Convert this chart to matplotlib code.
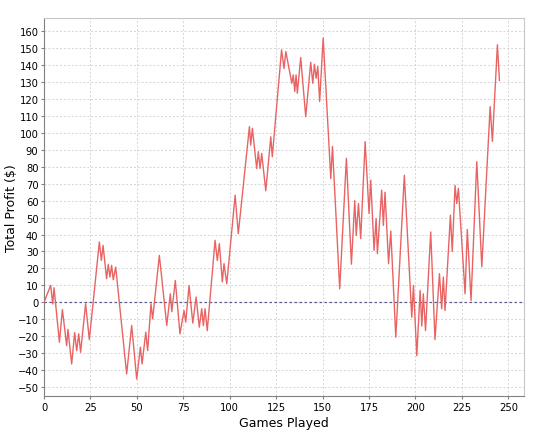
import numpy as np
import matplotlib
matplotlib.use('Agg')
import matplotlib.pyplot as plt

# vertices of the profit curve (game number, total profit)
games = [0, 3.6, 4.7, 5.4, 8.3, 9.9, 12.2, 12.9, 14.9, 16.5, 17.6, 18.7, 19.7, 22.4, 24.4,
         29.8, 30.9, 31.8, 33.7, 34.6, 35.5, 36.4, 37.3, 38.6, 44.5, 47.2, 49.9, 51.9, 52.8,
         54.8, 55.8, 57.6, 58.5, 62.1, 66.1, 68, 68.8, 70.7, 73.2, 75.4, 76.3, 78.1, 80.1,
         81.9, 83.6, 84.9, 85.8, 86.7, 87.9, 92.1, 93.3, 94.4, 96, 96.9, 98.4, 102.9, 104.6,
         110.6, 111.3, 112.2, 114.5, 115.4, 116.3, 117.2, 119.4, 122.1, 122.9, 127.9, 129.2,
         130.2, 133.4, 134.2, 135, 135.7, 136.4, 138.2, 140.9, 143.6, 144.7, 145.6, 146.5,
         147.4, 148.4, 150.3, 154.4, 155.3, 159.2, 162.8, 165.5, 167.3, 168.1, 169.3, 170.5,
         172.9, 175, 175.9, 177.7, 178.8, 179.5, 181.8, 182.7, 183.6, 185.5, 186.7, 189.4,
         194, 198, 198.9, 200.7, 202.5, 203.4, 204.2, 205.4, 208.2, 210.5, 212.9, 214.1,
         215, 215.9, 218.8, 219.8, 221.3, 222.2, 223.1, 226.7, 227.9, 229.9, 233, 235.7,
         240.2, 241.4, 244.1, 245.2]
profit = [0, 10, -1, 8.6, -23.6, -4.3, -25.6, -16, -36.4, -17.9, -28.5, -18.6, -29.5, -0.9, -22,
          35.6, 24.7, 33.6, 13.9, 22.4, 14.9, 21.8, 13.3, 20.8, -42.3, -13.7, -45.3, -26.5, -36.4,
          -17.6, -28.5, -0.9, -9.8, 27.7, -13.7, 5, -5.5, 12.9, -18.6, -4.9, -11.7, 9.9, -12.3,
          3.1, -14.7, -3.8, -13.7, -3.8, -16.7, 36.6, 24.7, 34.6, 12, 22.8, 10.9, 63.2, 40.5,
          103.7, 92.8, 102.7, 79, 88.9, 79, 87.9, 65.8, 97.7, 85.9, 149, 138,
          148, 129.3, 134.2, 124.4, 134.2, 123.4, 144.5, 109.6, 141.7, 129.3, 140.5, 132.2,
          139.2, 118.5, 156, 73, 92, 8, 85, 22.5, 60, 39.5, 58.3, 37.6,
          94.8, 52.4, 72.1, 30.7, 49.4, 28.7, 66.2, 45.4, 65, 22.8, 42, -20.6,
          75, -8.8, 9.9, -31.5, 7, -14, 5, -16.7, 41.5, -22, 16.9, -3.8,
          14.9, -4.9, 51.4, 30, 69, 58.3, 67.2, 5, 43, 1, 83, 21,
          115.5, 95, 152, 131]

x_ticks = np.arange(0, 251, 25)
y_ticks = np.arange(-50, 161, 10)

fig = plt.figure(figsize=(5.5, 4.39), dpi=100)
ax = fig.add_axes([0.08, 0.0957, 0.873, 0.861])

ax.set_xlim(0, 258.5)
ax.set_ylim(-55.3, 167.8)
ax.set_xticks(x_ticks)
ax.set_yticks(y_ticks)
ax.grid(True, color='#d4d4d4', linestyle=(0, (2, 2)), linewidth=0.7)
ax.set_axisbelow(True)

ax.axhline(0, color='#5c5c8c', linestyle=(0, (2, 2)), linewidth=0.9, zorder=2)
ax.plot(games, profit, color='#e86464', linewidth=1.0, zorder=3)

for side in ['left', 'bottom']:
    ax.spines[side].set_color('#808080')
for side in ['top', 'right']:
    ax.spines[side].set_color('#c8c8c8')
ax.tick_params(direction='out', length=2, color='#808080', labelsize=7.2, pad=2)

ax.set_xlabel('Games Played', fontsize=9, labelpad=3)
ax.set_ylabel('Total Profit ($)', fontsize=9, va='center')
ax.yaxis.set_label_coords(-0.068, 0.5)

fig.savefig('out.png', dpi=100)
